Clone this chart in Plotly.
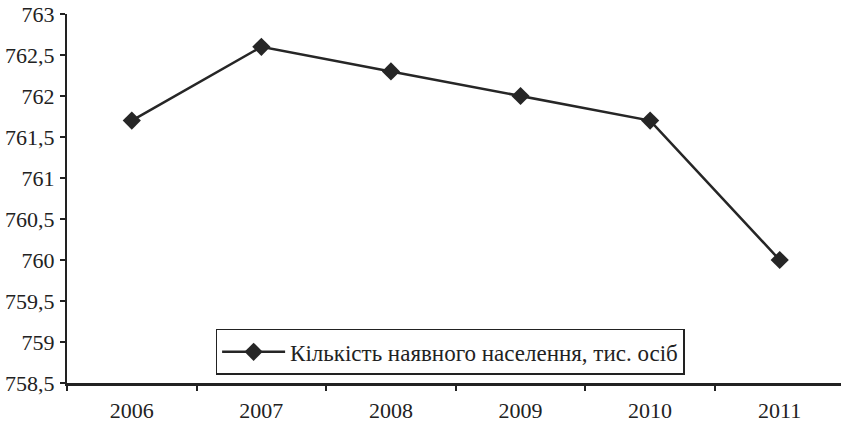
import plotly.graph_objects as go

years = ["2006", "2007", "2008", "2009", "2010", "2011"]
population = [761.7, 762.6, 762.3, 762.0, 761.7, 760.0]
series_name = "Кількість наявного населення, тис. осіб"
y_tick_vals = [758.5, 759, 759.5, 760, 760.5, 761, 761.5, 762, 762.5, 763]
y_tick_text = ["758,5", "759", "759,5", "760", "760,5", "761", "761,5", "762", "762,5", "763"]

SERIF = "Liberation Serif"
TXT = "#222222"

fig = go.Figure()
fig.add_trace(go.Scatter(
    x=years, y=population, name=series_name, mode="lines+markers",
    line=dict(color="#262626", width=2.5),
    marker=dict(symbol="diamond", size=14, color="#262626"),
    showlegend=True,
))

fig.update_layout(
    width=841, height=423,
    margin=dict(l=67, r=0, t=14, b=37),
    paper_bgcolor="white", plot_bgcolor="white",
    font=dict(family=SERIF, size=22, color=TXT),
    separators=", ",
    legend=dict(
        x=0.192, y=0.022, xanchor="left", yanchor="bottom",
        bordercolor=TXT, borderwidth=1.5, bgcolor="white",
        font=dict(family=SERIF, size=23, color=TXT),
        itemwidth=63, tracegroupgap=0,
    ),
    xaxis=dict(
        type="category", range=[-0.5, 5.473],
        tickson="boundaries", ticks="outside", ticklen=5, tickwidth=2, tickcolor=TXT,
        showline=True, linecolor=TXT, linewidth=3,
        showgrid=False, zeroline=False, ticklabelstandoff=6,
        tickfont=dict(family=SERIF, size=22, color=TXT),
    ),
    yaxis=dict(
        range=[758.5, 763], tickvals=y_tick_vals, ticktext=y_tick_text,
        ticks="outside", ticklen=5, tickwidth=2, tickcolor=TXT,
        showline=True, linecolor=TXT, linewidth=2,
        showgrid=False, zeroline=False, ticklabelstandoff=1,
        tickfont=dict(family=SERIF, size=22, color=TXT),
    ),
)
fig.write_html("out.html", config={"displayModeBar": False},
               post_script="document.body.style.margin='0';")
